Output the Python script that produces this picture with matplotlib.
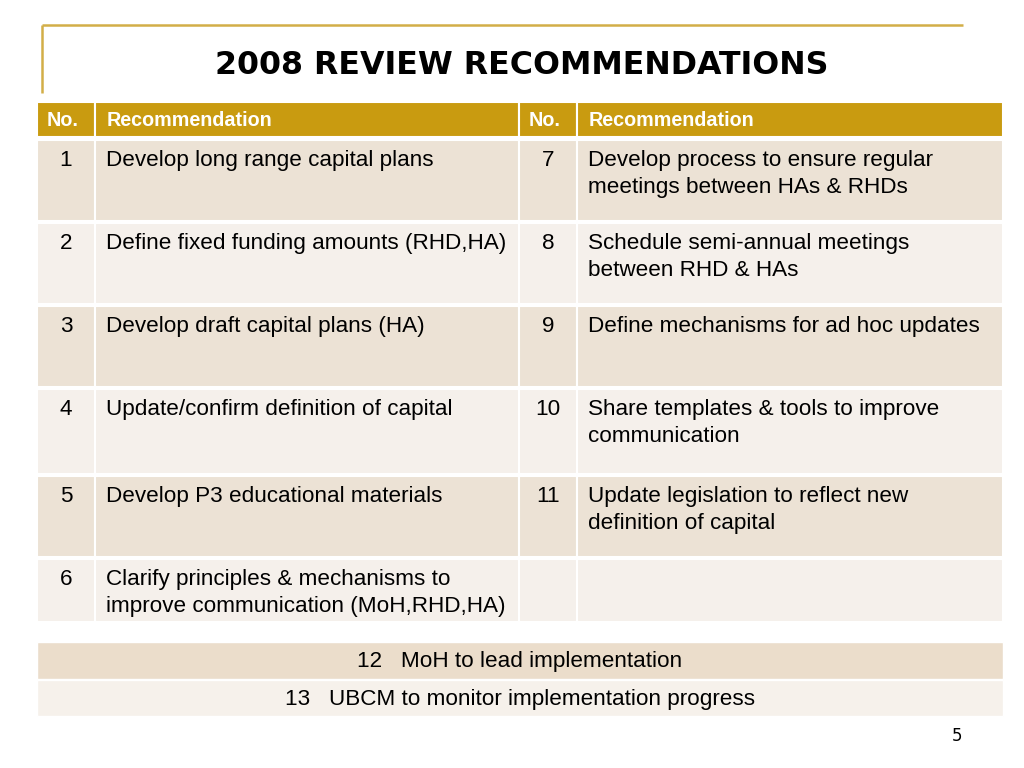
import matplotlib
matplotlib.use("Agg")
import matplotlib.pyplot as plt
from matplotlib.patches import Rectangle

# Table content
header = ["No.", "Recommendation", "No.", "Recommendation"]
left_nums = ["1", "2", "3", "4", "5", "6"]
left_recs = ["Develop long range capital plans",
             "Define fixed funding amounts (RHD,HA)",
             "Develop draft capital plans (HA)",
             "Update/confirm definition of capital",
             "Develop P3 educational materials",
             "Clarify principles & mechanisms to\nimprove communication (MoH,RHD,HA)"]
right_nums = ["7", "8", "9", "10", "11", ""]
right_recs = ["Develop process to ensure regular\nmeetings between HAs & RHDs",
              "Schedule semi-annual meetings\nbetween RHD & HAs",
              "Define mechanisms for ad hoc updates",
              "Share templates & tools to improve\ncommunication",
              "Update legislation to reflect new\ndefinition of capital",
              ""]
bottom_nums = ["12", "13"]
bottom_recs = ["MoH to lead implementation",
               "UBCM to monitor implementation progress"]

# layout (pixels)
col_edges = [37, 95, 519, 577, 1003]
row_tops = [140, 223, 306, 389, 476, 559]
row_bots = [221, 304, 387, 474, 557, 622]
bottom_rows = [(642, 679), (680, 716)]

gold = "#C99B10"
dark = "#ECE2D5"
light = "#F5F0EB"
font_body = "Liberation Sans"
fs = 16.2

fig = plt.figure(figsize=(10.24, 7.68), dpi=100)
ax = fig.add_axes([0, 0, 1, 1])
ax.set_xlim(0, 1024)
ax.set_ylim(768, 0)
ax.axis("off")

# frame lines
ax.plot([42, 963], [25, 25], color="#D2AE48", lw=1.8, solid_capstyle="butt")
ax.plot([42, 42], [25, 93], color="#D2AE48", lw=1.8, solid_capstyle="butt")

ax.text(522, 65, "2008 REVIEW RECOMMENDATIONS", ha="center", va="center",
        fontsize=22.8, fontweight="bold", family="DejaVu Sans", color="black")

# header row
for i, h in enumerate(header):
    x0, x1 = col_edges[i], col_edges[i + 1]
    ax.add_patch(Rectangle((x0, 102), x1 - x0, 35, facecolor=gold,
                           edgecolor="white", lw=1.5))
    ax.text(x0 + (10 if h == "No." else 12), 120, h, ha="left", va="center",
            color="white", fontsize=14.2, fontweight="bold", family=font_body)

# body rows
for r in range(len(left_nums)):
    y0, y1 = row_tops[r], row_bots[r]
    fc = dark if r % 2 == 0 else light
    for i in range(4):
        x0, x1 = col_edges[i], col_edges[i + 1]
        ax.add_patch(Rectangle((x0, y0), x1 - x0, y1 - y0, facecolor=fc,
                               edgecolor="white", lw=1.5))
    cells = [left_nums[r], left_recs[r], right_nums[r], right_recs[r]]
    for i, t in enumerate(cells):
        x0, x1 = col_edges[i], col_edges[i + 1]
        if i in (0, 2):
            ax.text((x0 + x1) / 2, y0 + 10, t, ha="center", va="top",
                    fontsize=fs, family=font_body, color="black")
        else:
            ax.text(x0 + 11, y0 + 10, t, ha="left", va="top", fontsize=fs,
                    family=font_body, color="black", linespacing=1.38)

# bottom table
for k, (y0, y1) in enumerate(bottom_rows):
    fc = "#EBDDCB" if k == 0 else "#F6F1EB"
    ax.add_patch(Rectangle((37, y0), 1003 - 37, y1 - y0, facecolor=fc,
                           edgecolor="white", lw=1))
    ax.text(520, (y0 + y1) / 2 + 1, bottom_nums[k] + "   " + bottom_recs[k],
            ha="center", va="center", fontsize=fs, family=font_body,
            color="black")

ax.text(957, 736, "5", ha="center", va="center", fontsize=12,
        family="DejaVu Sans", color="black")

fig.savefig("out.png", dpi=100)
